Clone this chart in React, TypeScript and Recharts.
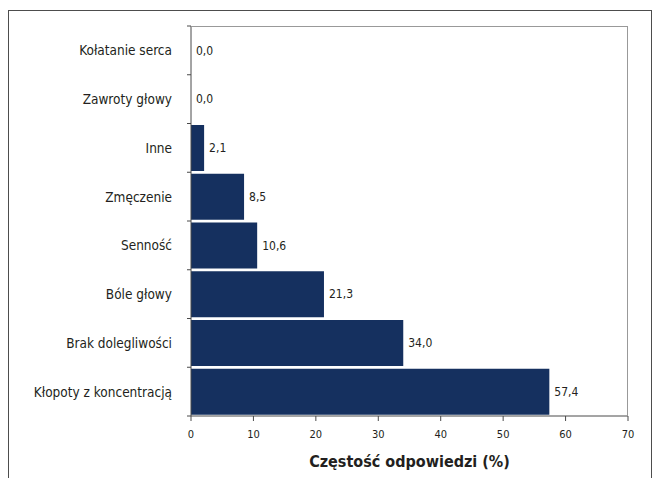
import { BarChart, Bar, XAxis, YAxis, LabelList } from 'recharts';

const categories = [
  'Kołatanie serca',
  'Zawroty głowy',
  'Inne',
  'Zmęczenie',
  'Senność',
  'Bóle głowy',
  'Brak dolegliwości',
  'Kłopoty z koncentracją',
];
const values = [0.0, 0.0, 2.1, 8.5, 10.6, 21.3, 34.0, 57.4];
const xTicks = [0, 10, 20, 30, 40, 50, 60, 70];

const data = categories.map((name, i) => ({ name, value: values[i] }));

const FONT = '"DejaVu Sans Condensed", "Liberation Sans Narrow", sans-serif';
const TEXT = '#231f20';
const BAR = '#15305f';
const AXIS = '#4a4a4a';

const CHART_W = 642;
const CHART_H = 467;
const MARGIN = { top: 15, right: 23, bottom: 0, left: 0 };
const Y_WIDTH = 182;
const X_HEIGHT = 62;
const plotWidth = CHART_W - MARGIN.left - MARGIN.right - Y_WIDTH;
const plotHeight = CHART_H - MARGIN.top - MARGIN.bottom - X_HEIGHT;
const band = plotHeight / categories.length;

const fmt = (v: number) => v.toFixed(1).replace('.', ',');

// category label plus small boundary ticks between the bands
const CategoryTick = (props: any) => {
  const { x, y, payload, index } = props;
  const top = y - band / 2;
  const bottom = y + band / 2;
  return (
    <g>
      <line x1={x - 4} x2={x} y1={top} y2={top} stroke={AXIS} strokeWidth={1} />
      {index === categories.length - 1 && (
        <line x1={x - 4} x2={x} y1={bottom} y2={bottom} stroke={AXIS} strokeWidth={1} />
      )}
      <text
        x={x - 19}
        y={y}
        textAnchor="end"
        dominantBaseline="central"
        fontFamily={FONT}
        fontSize={13.5}
        fill={TEXT}
      >
        {payload.value}
      </text>
    </g>
  );
};

// value label to the right of each bar
const ValueLabel = (props: any) => {
  const { x, y, width, height, value } = props;
  return (
    <text
      x={Number(x) + Number(width || 0) + 5}
      y={Number(y) + Number(height) / 2}
      dominantBaseline="central"
      fontFamily={FONT}
      fontSize={12}
      fill={TEXT}
    >
      {fmt(Number(value))}
    </text>
  );
};

export default function App() {
  return (
    <div
      style={{
        position: 'fixed',
        left: 8,
        top: 10,
        width: 644,
        height: 468,
        boxSizing: 'border-box',
        borderTop: '1px solid #4d4d4d',
        borderLeft: '1px solid #4d4d4d',
        borderRight: '1px solid #4d4d4d',
        background: '#fff',
      }}
    >
      <div style={{ position: 'absolute', left: 0, top: 0 }}>
        <BarChart
          width={CHART_W}
          height={CHART_H}
          data={data}
          layout="vertical"
          margin={MARGIN}
          barCategoryGap={1.5}
        >
          <XAxis
            type="number"
            domain={[0, 70]}
            ticks={xTicks}
            tickSize={5}
            tickMargin={9}
            height={X_HEIGHT}
            stroke={AXIS}
            tick={{ fontFamily: FONT, fontSize: 11, fill: TEXT }}
            label={{
              value: 'Częstość odpowiedzi (%)',
              position: 'insideBottom',
              offset: 11,
              style: { fontFamily: FONT, fontSize: 16, fontWeight: 'bold', fill: TEXT },
            }}
          />
          <YAxis
            type="category"
            dataKey="name"
            width={Y_WIDTH}
            tickLine={false}
            tickSize={0}
            tickMargin={0}
            stroke={AXIS}
            interval={0}
            tick={<CategoryTick />}
          />
          <Bar dataKey="value" fill={BAR} minPointSize={0.01} isAnimationActive={false}>
            <LabelList dataKey="value" content={<ValueLabel />} />
          </Bar>
        </BarChart>
      </div>
      {/* light frame on the top and right of the plot area */}
      <div
        style={{
          position: 'absolute',
          left: MARGIN.left + Y_WIDTH,
          top: MARGIN.top,
          width: plotWidth,
          height: plotHeight,
          boxSizing: 'border-box',
          borderTop: '1px solid #999999',
          borderRight: '1px solid #999999',
          pointerEvents: 'none',
          zIndex: 2,
        }}
      />
    </div>
  );
}
